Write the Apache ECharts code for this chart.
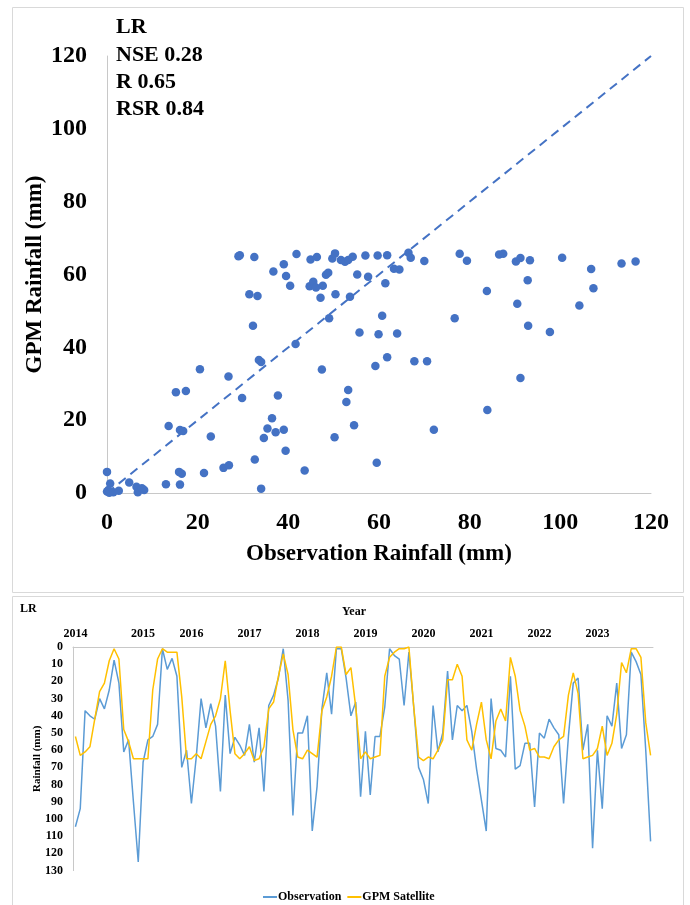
<!DOCTYPE html>
<html>
<head>
<meta charset="utf-8">
<script src="https://cdn.jsdelivr.net/npm/echarts@6/dist/echarts.min.js"></script>
<style>
  html, body { margin: 0; padding: 0; background: #fff; }
  #chart { width: 690px; height: 905px; }
</style>
</head>
<body>
<div id="chart"></div>
<script>
// scatter: observation vs GPM (mm)
const obsX = [0, 0.7, 0, 1.4, 2.6, 4.9, 6.5, 6.8, 8.2, 7.7, 0.3, 0.5,
  13, 13.6, 15.2, 17.4, 16.1, 16.8, 15.9, 16.5, 16.1, 20.5, 21.4, 22.9, 25.7, 26.9, 26.8, 29.8,
  32.2, 32.6, 33.5, 34, 34, 34.6, 35.4, 36.4, 37.2, 37.7, 39, 39.4, 41.6, 43.6, 47.4, 49, 50.2,
  29.3, 29, 32.5, 36.7, 39, 39.5, 40.4, 41.8, 44.7, 44.9, 45.5, 46.3, 46.1, 47.6, 47.1, 48.3,
  48.8, 49.7, 50.3, 50.4, 51.6, 31.4, 33.2,
  52.5, 53.2, 54.2, 55.2, 57, 57.6, 59.7, 61.8, 61.4, 63.3, 64.5, 66.5, 67, 70, 77.8, 79.4,
  83.8, 86.5, 87.4, 90.2, 91.2, 93.3, 92.8, 100.4, 106.8, 107.3, 113.5, 116.6, 53.6,
  53.2, 52.8, 54.5, 55.7, 59.9, 60.7, 64, 61.8, 59.2, 59.5, 67.8, 70.6, 72.1, 76.7, 83.9,
  90.5, 91.2, 92.9, 97.7, 104.2];
const gpmY = [5.8, 2.6, 0.4, 0.2, 0.6, 2.9, 1.7, 0.2, 0.8, 1.3, 0.8, 0.1,
  2.4, 18.4, 27.7, 28, 17.3, 17, 5.8, 5.3, 2.3, 34, 5.5, 15.5, 6.9, 7.6, 32, 26.1,
  45.9, 9.2, 36.5, 36, 1.2, 15.1, 17.7, 20.5, 16.7, 26.8, 17.4, 11.6, 40.9, 6.2, 33.9, 48, 15.3,
  65.3, 65, 64.8, 60.8, 62.8, 59.6, 56.9, 65.6, 56.8, 64.1, 58, 64.8, 56.4, 56.9, 53.6, 59.9,
  60.5, 64.4, 65.8, 54.6, 64, 54.6, 54.1,
  63.5, 64, 64.9, 60, 65.2, 59.4, 65.2, 65.3, 57.6, 61.6, 61.4, 66, 64.6, 63.7, 65.7, 63.8,
  55.5, 65.5, 65.7, 63.6, 64.5, 63.9, 58.4, 64.6, 61.5, 56.2, 63, 63.6, 53.9,
  28.3, 25, 18.6, 44.1, 43.6, 48.7, 43.8, 37.3, 34.9, 8.3, 36.2, 36.2, 17.4, 48, 22.8,
  52, 31.6, 45.9, 44.2, 51.5];
const statLines = ['LR', 'NSE 0.28', 'R 0.65', 'RSR 0.84'];

// monthly series 2014-2023 (mm)
const observation = [104.5, 94, 37, 40, 42, 30, 36, 25, 7.6, 21, 61, 54,
  90, 125, 67, 54, 52, 45, 1, 13, 6.6, 17, 70, 60,
  91, 64, 30, 47, 33, 46, 84, 28, 62, 52.5, 57, 63,
  45, 67, 47, 84, 34, 28, 18, 1, 31, 98, 50, 50,
  40, 107, 81, 36, 15, 39, 1, 1, 18, 40, 32, 87,
  49, 86, 52, 52, 35, 1, 5, 7, 34, 3, 35, 70,
  77, 91, 34, 61, 50, 14, 54, 34, 37, 34, 49, 71,
  89, 107, 30, 59, 60, 64, 17, 71, 69, 56, 56, 93,
  50, 53, 42, 47, 51, 91, 52, 21, 18, 60, 45, 117,
  60, 94, 40, 46, 21, 59, 51, 3, 8.5, 16, 60, 113];
const gpmSatellite = [52, 63, 61, 58, 42, 26, 21, 8, 1, 7, 48, 55,
  65, 65, 65, 65, 25, 7, 1, 3, 3, 3, 29, 65,
  65, 62, 65, 55, 45, 40, 30, 8, 37, 62, 65, 62,
  58, 66, 65, 58, 36, 32, 17, 4, 16, 48, 64, 65,
  60, 62, 64, 37, 29, 17, 0, 0, 16, 12, 35, 65,
  61, 65, 64, 63, 17, 6, 3, 1, 1, 0, 35, 64,
  66, 64, 65, 60, 54, 19, 19, 10, 17, 54, 60, 45,
  32, 54, 65, 43, 36, 43, 6, 17, 37, 46, 60, 59,
  64, 64, 65, 58, 54, 52, 28, 15, 27, 65, 64, 63,
  59, 46, 63, 56, 39, 9, 15, 1, 1, 6, 44, 63];
const yearLabels = ['2014', '2015', '2016', '2017', '2018', '2019', '2020', '2021', '2022', '2023'];
const yearIdx = [0, 14, 24, 36, 48, 60, 72, 84, 96, 108];

const months = observation.map((v, i) => i);
const monthLabels = months.map(i => {
  const k = yearIdx.indexOf(i);
  return k >= 0 ? yearLabels[k] : '';
});

const FONT = '"Times New Roman", "Liberation Serif", serif';
const AXIS_GRAY = '#c8c8c8';

const chart = echarts.init(document.getElementById('chart'));

const option = {
  animation: false,
  textStyle: { fontFamily: FONT, color: '#000' },
  graphic: [
    { type: 'rect', shape: { x: 12.5, y: 7.5, width: 671, height: 585 },
      style: { fill: 'none', stroke: '#d9d9d9', lineWidth: 1 } },
    { type: 'rect', shape: { x: 12.5, y: 596.5, width: 671, height: 330 },
      style: { fill: 'none', stroke: '#d9d9d9', lineWidth: 1 } },
    { type: 'text', left: 116, top: 14,
      style: { text: statLines.join('\n'), font: 'bold 22px ' + FONT, lineHeight: 27.3, fill: '#000' } },
    { type: 'text', left: 20, top: 603,
      style: { text: 'LR', font: 'bold 12px ' + FONT, fill: '#000' } },
    { type: 'text', left: 342, top: 606,
      style: { text: 'Year', font: 'bold 12px ' + FONT, fill: '#000' } }
  ],
  grid: [
    { left: 107, top: 56, width: 544, height: 437 },
    { left: 73, top: 647, width: 580, height: 223.6 }
  ],
  xAxis: [
    {
      gridIndex: 0, type: 'value', min: 0, max: 120, interval: 20,
      axisLine: { show: true, lineStyle: { color: AXIS_GRAY } },
      axisTick: { show: false },
      splitLine: { show: false },
      axisLabel: { fontSize: 24, fontWeight: 'bold', color: '#000', margin: 18, fontFamily: FONT },
      name: 'Observation Rainfall (mm)', nameLocation: 'middle', nameGap: 50,
      nameTextStyle: { fontSize: 23, fontWeight: 'bold', color: '#000', fontFamily: FONT }
    },
    {
      gridIndex: 1, type: 'category', position: 'top', data: monthLabels, boundaryGap: true,
      axisLine: { show: true, lineStyle: { color: AXIS_GRAY } },
      axisTick: { show: false },
      axisLabel: {
        interval: (idx) => yearIdx.indexOf(idx) >= 0,
        fontSize: 12, fontWeight: 'bold', color: '#000', margin: 7, fontFamily: FONT,
        hideOverlap: false
      }
    }
  ],
  yAxis: [
    {
      gridIndex: 0, type: 'value', min: 0, max: 120, interval: 20,
      axisLine: { show: true, lineStyle: { color: AXIS_GRAY } },
      axisTick: { show: false },
      splitLine: { show: false },
      axisLabel: { fontSize: 24, fontWeight: 'bold', color: '#000', margin: 20, fontFamily: FONT },
      name: 'GPM Rainfall (mm)', nameLocation: 'middle', nameGap: 60, nameRotate: 90,
      nameMoveOverlap: false,
      nameTextStyle: { fontSize: 23, fontWeight: 'bold', color: '#000', fontFamily: FONT }
    },
    {
      gridIndex: 1, type: 'value', inverse: true, min: 0, max: 130, interval: 10,
      axisLine: { show: true, lineStyle: { color: AXIS_GRAY } },
      axisTick: { show: false },
      splitLine: { show: false },
      axisLabel: { fontSize: 12, fontWeight: 'bold', color: '#000', margin: 10, fontFamily: FONT },
      name: 'Rainfall (mm)', nameLocation: 'middle', nameGap: 30, nameRotate: 90,
      nameMoveOverlap: false,
      nameTextStyle: { fontSize: 11, fontWeight: 'bold', color: '#000', fontFamily: FONT }
    }
  ],
  legend: {
    left: 258, top: 886,
    itemWidth: 14, itemHeight: 2, itemGap: 6,
    icon: 'rect',
    textStyle: { fontSize: 12, fontWeight: 'bold', color: '#000', fontFamily: FONT, padding: [0, 0, 0, -4] },
    data: ['Observation', 'GPM Satellite']
  },
  series: [
    {
      name: 'LR points', type: 'scatter', xAxisIndex: 0, yAxisIndex: 0,
      symbolSize: 8.5, itemStyle: { color: '#4472C4', opacity: 1 },
      data: obsX.map((x, i) => [x, gpmY[i]])
    },
    {
      name: '1:1', type: 'line', xAxisIndex: 0, yAxisIndex: 0,
      symbol: 'none', silent: true,
      lineStyle: { color: '#4472C4', width: 2, type: [9, 6] },
      data: [[0, 0], [120, 120]]
    },
    {
      name: 'Observation', type: 'line', xAxisIndex: 1, yAxisIndex: 1,
      symbol: 'none', color: '#5B9BD5',
      lineStyle: { color: '#5B9BD5', width: 1.5 },
      data: observation
    },
    {
      name: 'GPM Satellite', type: 'line', xAxisIndex: 1, yAxisIndex: 1,
      symbol: 'none', color: '#FFC000',
      lineStyle: { color: '#FFC000', width: 1.5 },
      data: gpmSatellite
    }
  ]
};

chart.setOption(option);
</script>
</body>
</html>
